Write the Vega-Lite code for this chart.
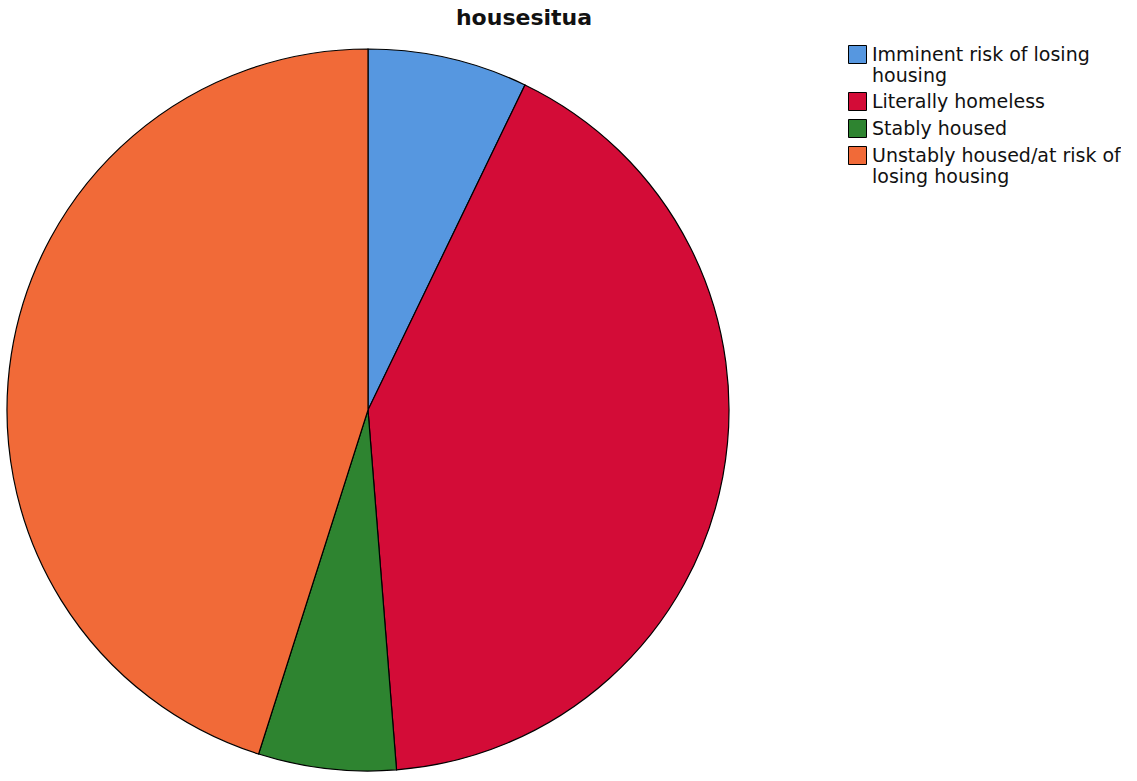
{
  "$schema": "https://vega.github.io/schema/vega-lite/v6.json",
  "autosize": {"type": "pad"},
  "padding": 0,
  "width": 736,
  "height": 820,
  "background": "white",
  "title": {
    "text": "housesitua",
    "font": "DejaVu Sans",
    "fontSize": 22,
    "fontWeight": "bold",
    "color": "#111111",
    "anchor": "middle",
    "frame": "group",
    "dx": 156,
    "offset": -30,
    "baseline": "top"
  },
  "data": {
    "values": [
      {"category": "Imminent risk of losing housing", "percent": 7.16},
      {"category": "Literally homeless", "percent": 41.58},
      {"category": "Stably housed", "percent": 6.16},
      {"category": "Unstably housed/at risk of losing housing", "percent": 45.1}
    ]
  },
  "mark": {"type": "arc", "radius": 361, "stroke": "#000000", "strokeWidth": 1.2},
  "encoding": {
    "theta": {"field": "percent", "type": "quantitative", "stack": true},
    "order": {"field": "category", "type": "nominal", "sort": "ascending"},
    "color": {
      "field": "category",
      "type": "nominal",
      "scale": {
        "domain": ["Imminent risk of losing housing", "Literally homeless", "Stably housed", "Unstably housed/at risk of losing housing"],
        "range": ["#5697E0", "#D30C37", "#2E8430", "#F16A38"]
      },
      "legend": {
        "title": null,
        "orient": "none",
        "legendX": 848,
        "legendY": 45,
        "symbolType": "square",
        "symbolSize": 324,
        "symbolStrokeColor": "#000000",
        "symbolStrokeWidth": 1,
        "symbolOpacity": 1,
        "labelFont": "DejaVu Sans",
        "labelFontSize": 19,
        "labelColor": "#111111",
        "labelOffset": 5,
        "labelLimit": 400,
        "rowPadding": 4,
        "labelExpr": "datum.label == 'Imminent risk of losing housing' ? ['Imminent risk of losing', 'housing'] : datum.label == 'Unstably housed/at risk of losing housing' ? ['Unstably housed/at risk of', 'losing housing'] : datum.label"
      }
    }
  },
  "config": {
    "view": {"stroke": null},
    "text": {"lineHeight": 20}
  }
}
